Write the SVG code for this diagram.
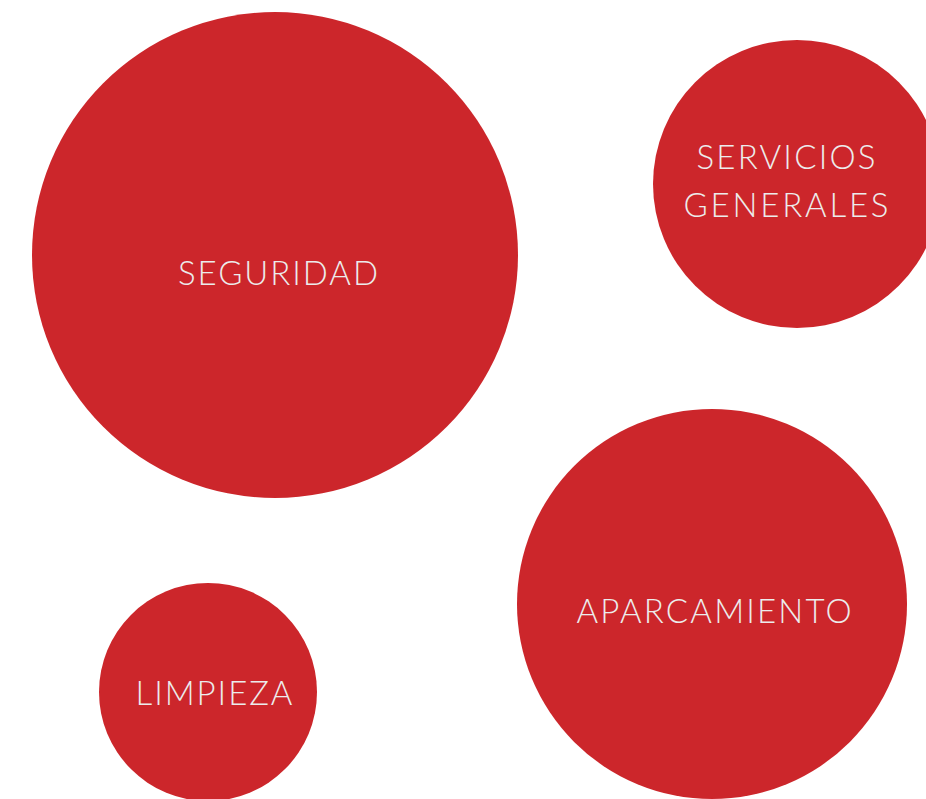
<svg xmlns="http://www.w3.org/2000/svg" width="926" height="799" viewBox="0 0 926 799">
<style>
.c{fill:#cc262b}
.t{fill:#ececec;font-family:Lato,"Open Sans","Liberation Sans",sans-serif;font-weight:300;font-size:33px;text-anchor:middle}
</style>
<rect width="926" height="799" fill="#ffffff"/>
<g id="seguridad"><circle class="c" cx="275" cy="255" r="243"/><text class="t" x="278" y="285" textLength="200">SEGURIDAD</text></g>
<g id="servicios-generales"><circle class="c" cx="797" cy="184" r="144"/><text class="t" x="786" y="169" textLength="179">SERVICIOS</text><text class="t" x="786" y="217" textLength="205">GENERALES</text></g>
<g id="aparcamiento"><circle class="c" cx="712" cy="604" r="195"/><text class="t" x="714" y="623" textLength="275">APARCAMIENTO</text></g>
<g id="limpieza"><circle class="c" cx="208" cy="692" r="109"/><text class="t" x="214" y="705" textLength="157">LIMPIEZA</text></g>
<g id="connectors"/>
</svg>
